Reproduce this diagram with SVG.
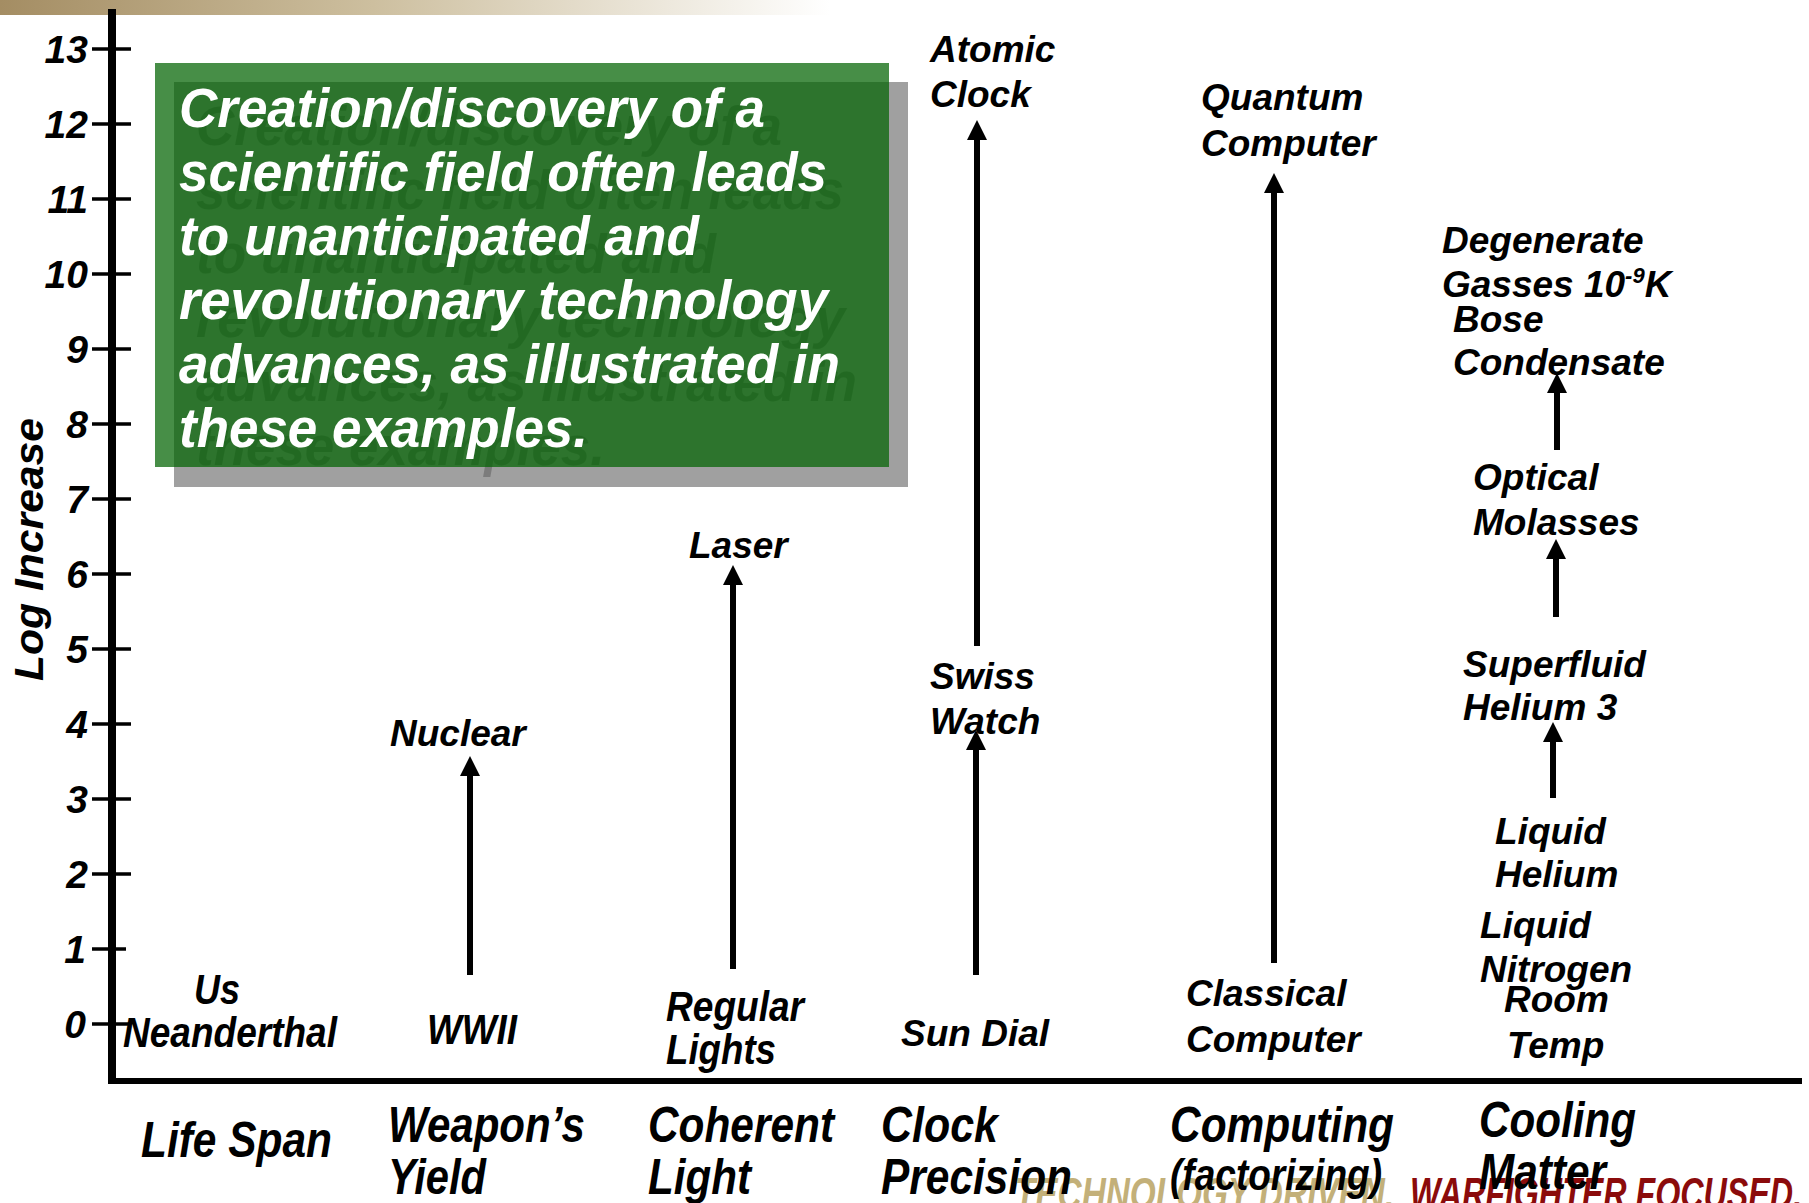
<svg xmlns="http://www.w3.org/2000/svg" width="1809" height="1203" viewBox="0 0 1809 1203">
<defs>
  <linearGradient id="topBar" x1="0" y1="0" x2="1" y2="0">
    <stop offset="0" stop-color="#a48d63"/>
    <stop offset="0.45" stop-color="#cdbf9f"/>
    <stop offset="1" stop-color="#ffffff"/>
  </linearGradient>
  <marker id="arrowHead" viewBox="0 0 20 20" refX="1" refY="10" markerWidth="20" markerHeight="20" markerUnits="userSpaceOnUse" orient="auto">
    <path d="M0,0 L20,10 L0,20 z" fill="#000"/>
  </marker>
</defs>
<style>
  text { font-family: "Liberation Sans", Arial, sans-serif; font-weight: bold; font-style: italic; fill: #000; }
  .tick-label { font-size: 39px; text-anchor: end; }
  .lbl { font-size: 37px; }
  .narrow { font-size: 42px; }
  .cat { font-size: 50px; }
  .claim { font-size: 55px; fill: #fff; }
  .claim-shadow { font-size: 55px; fill: #7c7c7c; }
  .axis { stroke: #000; fill: none; }
  .tick { stroke: #000; stroke-width: 3.5; }
  .arrow { stroke: #000; stroke-width: 6; fill: none; marker-end: url(#arrowHead); }
  .footer { font-size: 44px; }
</style>

<rect width="1809" height="1203" fill="#fff"/>

<!-- decorative band along the top edge -->
<rect x="0" y="0" width="830" height="15" fill="url(#topBar)"/>

<!-- footer slogan -->
<g id="footer">
  <text class="footer" x="1015" y="1209" fill="#c3b079" style="fill:#c3b079" textLength="379" lengthAdjust="spacingAndGlyphs">TECHNOLOGY DRIVEN.</text>
  <text class="footer" x="1410" y="1209" style="fill:#8b0b0b" textLength="392" lengthAdjust="spacingAndGlyphs">WARFIGHTER FOCUSED.</text>
</g>

<!-- axes -->
<g id="axes">
  <line class="axis" x1="112" y1="9" x2="112" y2="1084" stroke-width="8"/>
  <line class="axis" x1="108" y1="1081" x2="1802" y2="1081" stroke-width="6"/>
  <g id="ticks">
    <line class="tick" x1="92" y1="1024" x2="131" y2="1024"/>
    <line class="tick" x1="92" y1="949" x2="126" y2="949"/>
    <line class="tick" x1="92" y1="874" x2="131" y2="874"/>
    <line class="tick" x1="92" y1="799" x2="131" y2="799"/>
    <line class="tick" x1="92" y1="724" x2="131" y2="724"/>
    <line class="tick" x1="92" y1="649" x2="131" y2="649"/>
    <line class="tick" x1="92" y1="574" x2="131" y2="574"/>
    <line class="tick" x1="92" y1="499" x2="131" y2="499"/>
    <line class="tick" x1="92" y1="424" x2="131" y2="424"/>
    <line class="tick" x1="92" y1="349" x2="131" y2="349"/>
    <line class="tick" x1="92" y1="274" x2="131" y2="274"/>
    <line class="tick" x1="92" y1="199" x2="131" y2="199"/>
    <line class="tick" x1="92" y1="124" x2="131" y2="124"/>
    <line class="tick" x1="92" y1="49" x2="131" y2="49"/>
  </g>
  <g id="tick-labels">
    <text class="tick-label" x="86" y="1038">0</text>
    <text class="tick-label" x="86" y="963">1</text>
    <text class="tick-label" x="88" y="888">2</text>
    <text class="tick-label" x="88" y="813">3</text>
    <text class="tick-label" x="88" y="738">4</text>
    <text class="tick-label" x="88" y="663">5</text>
    <text class="tick-label" x="88" y="588">6</text>
    <text class="tick-label" x="88" y="513">7</text>
    <text class="tick-label" x="88" y="438">8</text>
    <text class="tick-label" x="88" y="363">9</text>
    <text class="tick-label" x="88" y="288">10</text>
    <text class="tick-label" x="88" y="213">11</text>
    <text class="tick-label" x="88" y="138">12</text>
    <text class="tick-label" x="88" y="63">13</text>
  </g>
  <text id="y-title" transform="translate(43,681) rotate(-90)" style="font-size:40px" textLength="263" lengthAdjust="spacingAndGlyphs">Log Increase</text>
</g>

<!-- highlighted statement box -->
<g id="statement">
  <rect x="174" y="82" width="734" height="405" fill="#a0a0a0"/>
  <g id="statement-shadow-text">
    <text class="claim-shadow" x="196" y="145" textLength="586" lengthAdjust="spacingAndGlyphs">Creation/discovery of a</text>
    <text class="claim-shadow" x="196" y="209" textLength="648" lengthAdjust="spacingAndGlyphs">scientific field often leads</text>
    <text class="claim-shadow" x="196" y="273" textLength="520" lengthAdjust="spacingAndGlyphs">to unanticipated and</text>
    <text class="claim-shadow" x="196" y="337" textLength="649" lengthAdjust="spacingAndGlyphs">revolutionary  technology</text>
    <text class="claim-shadow" x="196" y="401" textLength="661" lengthAdjust="spacingAndGlyphs">advances, as illustrated in</text>
    <text class="claim-shadow" x="196" y="465" textLength="409" lengthAdjust="spacingAndGlyphs">these examples.</text>
  </g>
  <rect x="155" y="63" width="734" height="404" fill="#006200" fill-opacity="0.72"/>
  <g id="statement-text">
    <text class="claim" x="179" y="127" textLength="586" lengthAdjust="spacingAndGlyphs">Creation/discovery of a</text>
    <text class="claim" x="179" y="191" textLength="648" lengthAdjust="spacingAndGlyphs">scientific field often leads</text>
    <text class="claim" x="179" y="255" textLength="520" lengthAdjust="spacingAndGlyphs">to unanticipated and</text>
    <text class="claim" x="179" y="319" textLength="649" lengthAdjust="spacingAndGlyphs">revolutionary  technology</text>
    <text class="claim" x="179" y="383" textLength="661" lengthAdjust="spacingAndGlyphs">advances, as illustrated in</text>
    <text class="claim" x="179" y="447" textLength="409" lengthAdjust="spacingAndGlyphs">these examples.</text>
  </g>
</g>

<!-- connectors -->
<g id="connectors">
  <line class="arrow" x1="470" y1="975" x2="470" y2="775"/>
  <line class="arrow" x1="733" y1="969" x2="733" y2="584"/>
  <line class="arrow" x1="977" y1="646" x2="977" y2="139"/>
  <line class="arrow" x1="976" y1="975" x2="976" y2="749"/>
  <line class="arrow" x1="1274" y1="963" x2="1274" y2="192"/>
  <line class="arrow" x1="1557" y1="450" x2="1557" y2="392"/>
  <line class="arrow" x1="1556" y1="617" x2="1556" y2="558"/>
  <line class="arrow" x1="1553" y1="798" x2="1553" y2="741"/>
</g>

<!-- life span -->
<g id="node-us"><text class="narrow" x="194" y="1004" textLength="46" lengthAdjust="spacingAndGlyphs">Us</text></g>
<g id="node-neanderthal"><text class="narrow" x="123" y="1047" textLength="214" lengthAdjust="spacingAndGlyphs">Neanderthal</text></g>

<!-- weapon yield -->
<g id="node-wwii"><text class="narrow" x="427" y="1044" textLength="90" lengthAdjust="spacingAndGlyphs">WWII</text></g>
<g id="node-nuclear"><text class="lbl" x="390" y="746">Nuclear</text></g>

<!-- coherent light -->
<g id="node-regular-lights">
  <text class="narrow" x="666" y="1021" textLength="138" lengthAdjust="spacingAndGlyphs">Regular</text>
  <text class="narrow" x="666" y="1064" textLength="110" lengthAdjust="spacingAndGlyphs">Lights</text>
</g>
<g id="node-laser"><text class="lbl" x="689" y="558">Laser</text></g>

<!-- clock precision -->
<g id="node-sun-dial"><text class="lbl" x="901" y="1046">Sun Dial</text></g>
<g id="node-swiss-watch">
  <text class="lbl" x="930" y="689">Swiss</text>
  <text class="lbl" x="930" y="734">Watch</text>
</g>
<g id="node-atomic-clock">
  <text class="lbl" x="930" y="62">Atomic</text>
  <text class="lbl" x="930" y="107">Clock</text>
</g>

<!-- computing -->
<g id="node-classical-computer">
  <text class="lbl" x="1186" y="1006">Classical</text>
  <text class="lbl" x="1186" y="1052">Computer</text>
</g>
<g id="node-quantum-computer">
  <text class="lbl" x="1201" y="110">Quantum</text>
  <text class="lbl" x="1201" y="156">Computer</text>
</g>

<!-- cooling matter -->
<g id="node-room-temp">
  <text class="lbl" x="1504" y="1012">Room</text>
  <text class="lbl" x="1507" y="1058">Temp</text>
</g>
<g id="node-liquid-nitrogen">
  <text class="lbl" x="1480" y="938">Liquid</text>
  <text class="lbl" x="1480" y="982">Nitrogen</text>
</g>
<g id="node-liquid-helium">
  <text class="lbl" x="1495" y="844">Liquid</text>
  <text class="lbl" x="1495" y="887">Helium</text>
</g>
<g id="node-superfluid">
  <text class="lbl" x="1463" y="677">Superfluid</text>
  <text class="lbl" x="1463" y="720">Helium 3</text>
</g>
<g id="node-optical-molasses">
  <text class="lbl" x="1473" y="490">Optical</text>
  <text class="lbl" x="1473" y="535">Molasses</text>
</g>
<g id="node-bose-condensate">
  <text class="lbl" x="1453" y="332">Bose</text>
  <text class="lbl" x="1453" y="375">Condensate</text>
</g>
<g id="node-degenerate-gasses">
  <text class="lbl" x="1442" y="253">Degenerate</text>
  <text class="lbl" x="1442" y="297">Gasses 10<tspan style="font-size:22px" dy="-14">-9</tspan><tspan dy="14">K</tspan></text>
</g>

<!-- category labels -->
<g id="categories">
  <text class="cat" x="141" y="1157" textLength="191" lengthAdjust="spacingAndGlyphs">Life Span</text>
  <text class="cat" x="388" y="1142" textLength="197" lengthAdjust="spacingAndGlyphs">Weapon’s</text>
  <text class="cat" x="388" y="1194" textLength="98" lengthAdjust="spacingAndGlyphs">Yield</text>
  <text class="cat" x="648" y="1142" textLength="186" lengthAdjust="spacingAndGlyphs">Coherent</text>
  <text class="cat" x="648" y="1194" textLength="103" lengthAdjust="spacingAndGlyphs">Light</text>
  <text class="cat" x="881" y="1142" textLength="117" lengthAdjust="spacingAndGlyphs">Clock</text>
  <text class="cat" x="881" y="1194" textLength="191" lengthAdjust="spacingAndGlyphs">Precision</text>
  <text class="cat" x="1170" y="1142" textLength="224" lengthAdjust="spacingAndGlyphs">Computing</text>
  <text class="cat" x="1170" y="1190" style="font-size:44px" textLength="212" lengthAdjust="spacingAndGlyphs">(factorizing)</text>
  <text class="cat" x="1479" y="1137" textLength="157" lengthAdjust="spacingAndGlyphs">Cooling</text>
  <text class="cat" x="1479" y="1189" textLength="127" lengthAdjust="spacingAndGlyphs">Matter</text>
</g>
</svg>
